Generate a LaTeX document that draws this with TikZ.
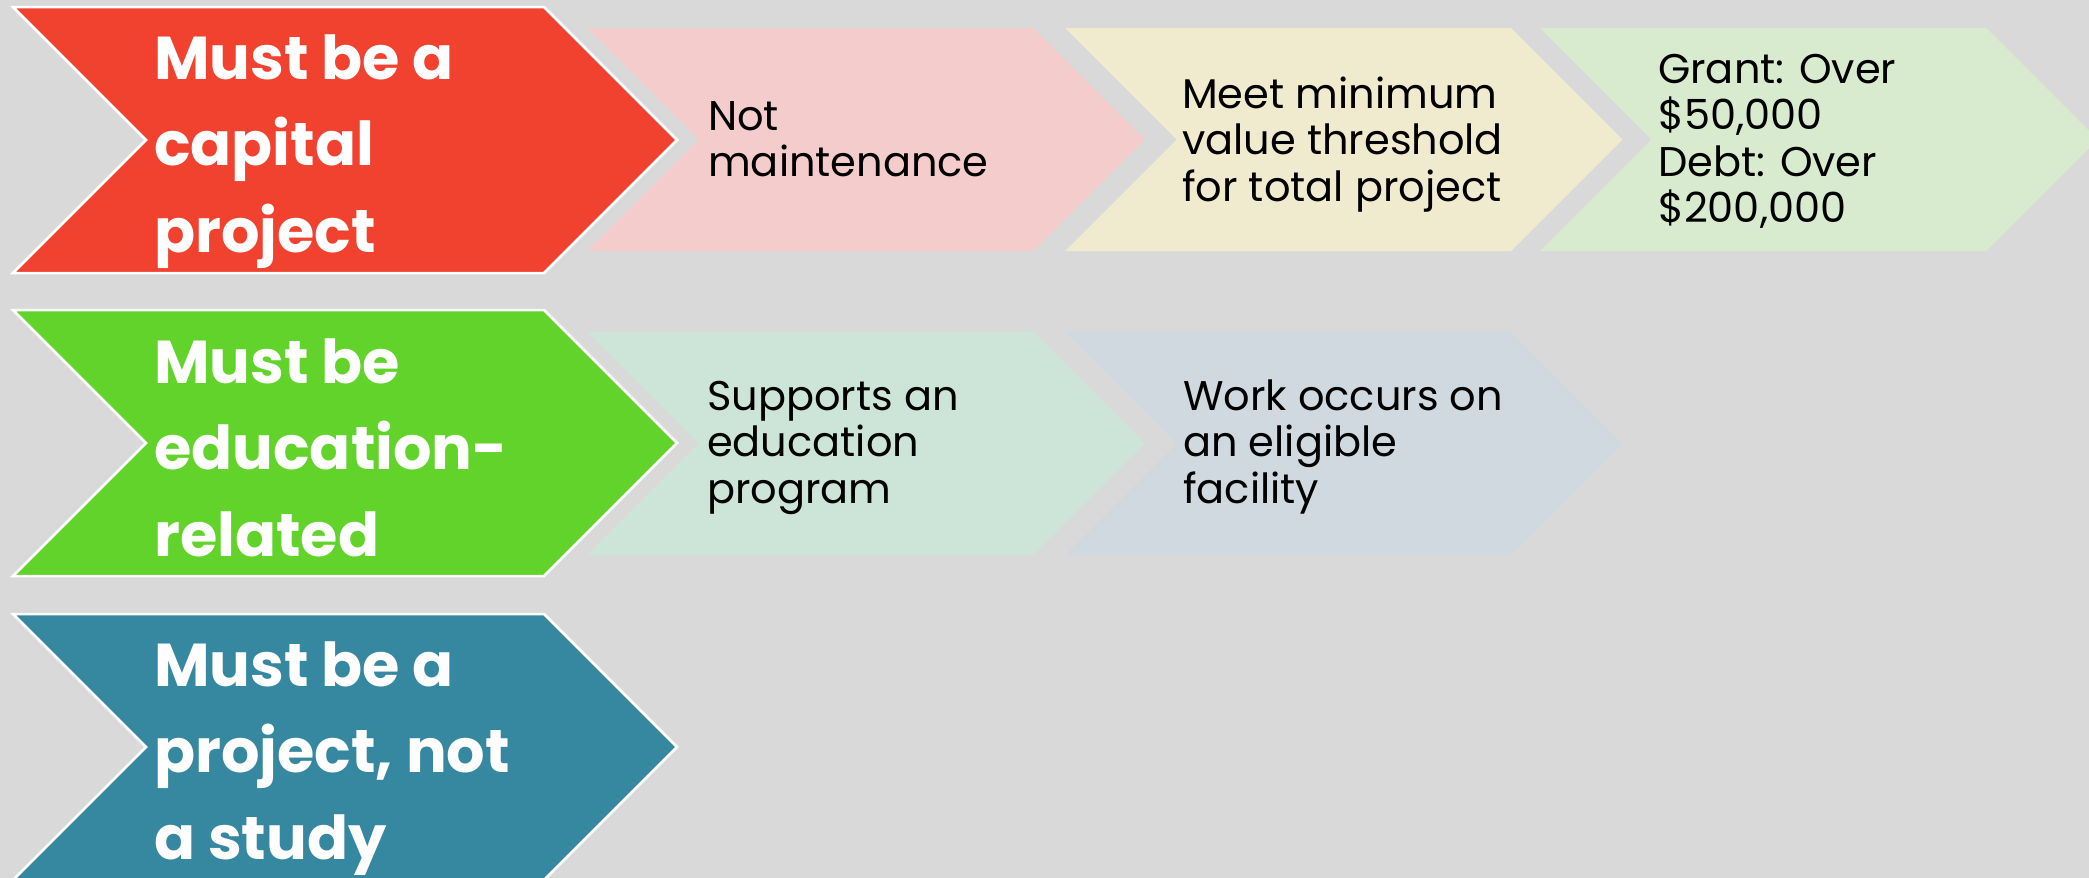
\documentclass[tikz,border=0pt]{standalone}
\usepackage{fontspec}
\setmainfont{Poppins}
\definecolor{bgc}{HTML}{D9D9D9}
\definecolor{redc}{HTML}{F1412F}
\definecolor{pinkc}{HTML}{F4CCCC}
\definecolor{creamc}{HTML}{F0EACE}
\definecolor{lgreenc}{HTML}{D9EBCF}
\definecolor{greenc}{HTML}{61D32A}
\definecolor{mintc}{HTML}{CDE5D9}
\definecolor{bluegrayc}{HTML}{CFD9DF}
\definecolor{tealc}{HTML}{3588A0}
\newcommand\chevshape[5]{%
  \path[#1] (#2,#3) -- ++(#4,0) -- ++(#5/2,#5/2) -- ++(-#5/2,#5/2) -- ++(-#4,0) -- ++(#5/2,-#5/2) -- cycle;}
\newcommand\lines[1]{\begin{tabular}[t]{@{}l@{}}#1\end{tabular}}
\begin{document}
\begin{tikzpicture}[x=1pt,y=-1pt,
  mainchev/.style={draw=white,line width=2.5pt,line join=miter},
  subchev/.style={draw=none},
  maintext/.style={font=\fontsize{60.5}{86.5}\selectfont\bfseries,text=white,inner sep=0pt,anchor=base west},
  subtext/.style={font=\fontsize{41.5}{46.5}\selectfont,text=black,inner sep=0pt,anchor=base west}]
\useasboundingbox (0,0) rectangle (2089,878);
\fill[bgc] (0,0) rectangle (2089,878);
% row 1
\chevshape{mainchev,fill=redc}{13}{7}{531}{266}
\chevshape{subchev,fill=pinkc}{587}{28}{446}{223}
\chevshape{subchev,fill=creamc}{1065}{28}{446}{223}
\chevshape{subchev,fill=lgreenc}{1540}{28}{446}{223}
% row 2
\chevshape{mainchev,fill=greenc}{13}{310}{531}{266}
\chevshape{subchev,fill=mintc}{587}{332}{446}{223}
\chevshape{subchev,fill=bluegrayc}{1065}{332}{446}{223}
% row 3
\chevshape{mainchev,fill=tealc}{13}{614}{531}{266}
% texts
\node[maintext] (capital) at (154,79) {\lines{Must be a\\capital\\project}};
\node[subtext] (maint) at (708,130) {\lines{Not\\maintenance}};
\node[subtext] (thresh) at (1182,108) {\lines{Meet minimum\\value threshold\\for total project}};
\node[subtext] (amount) at (1658,83) {\lines{Grant: Over\\\$50,000\\Debt: Over\\\$200,000}};
\node[maintext] (edu) at (154,383) {\lines{Must be\\education-\\related}};
\node[subtext] (program) at (707,410) {\lines{Supports an\\education\\program}};
\node[subtext] (facility) at (1183,410) {\lines{Work occurs on\\an eligible\\facility}};
\node[maintext] (study) at (154,686) {\lines{Must be a\\project, not\\a study}};
\end{tikzpicture}
\end{document}
